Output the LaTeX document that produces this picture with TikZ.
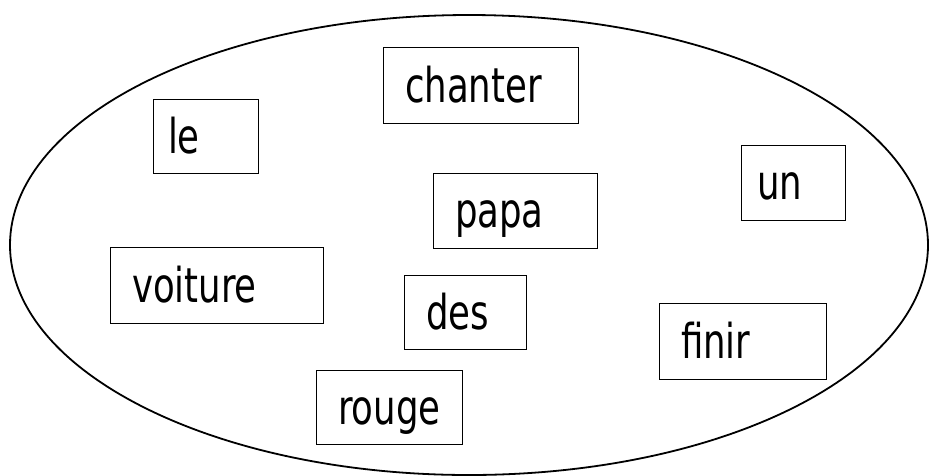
\documentclass[tikz,border=0pt]{standalone}
\usepackage{fontspec}
\setmainfont{DejaVu Sans}[FakeStretch=0.74]
\begin{document}
\begin{tikzpicture}[x=1pt,y=-1pt,
  wordbox/.style={draw, line width=0.8pt, inner ysep=0pt, inner xsep=22pt,
    align=left, text height=38pt, text depth=4pt,
    font=\fontsize{48}{50}\selectfont},
  ring/.style={draw, line width=1.8pt}]
\useasboundingbox (0,0) rectangle (929,475);
\draw[ring] (469,245) ellipse [x radius=459, y radius=230];
\node[wordbox, text width=151pt, minimum height=76pt] (chanter) at (480.5,85) {chanter};
\node[wordbox, inner xsep=15pt, text width=75pt, minimum height=74pt] (le) at (205.5,136) {le};
\node[wordbox, text width=120pt, minimum height=75pt] (papa) at (515,210.5) {papa};
\node[wordbox, inner xsep=16pt, text width=72pt, minimum height=75pt] (un) at (793,182.5) {un};
\node[wordbox, text width=169pt, minimum height=76pt] (voiture) at (216.5,285) {voiture};
\node[wordbox, text width=78pt, minimum height=74pt] (des) at (465,312) {des};
\node[wordbox, text width=123pt, minimum height=76pt] (finir) at (742.5,341) {finir};
\node[wordbox, text width=102pt, minimum height=74pt] (rouge) at (389,407) {rouge};
\end{tikzpicture}
\end{document}
